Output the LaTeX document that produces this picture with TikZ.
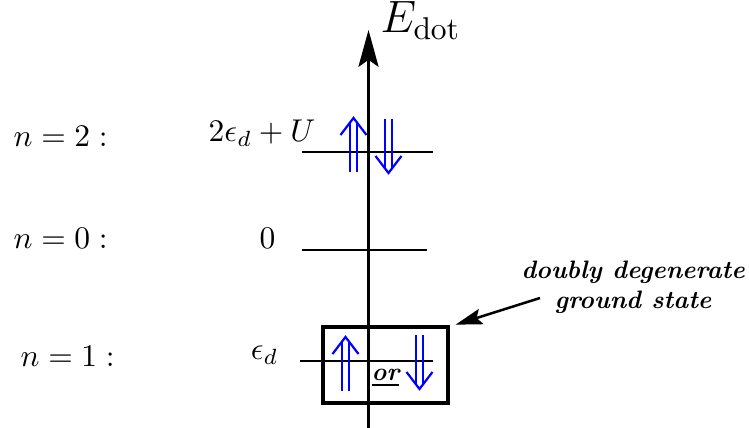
\documentclass[tikz,border=0pt]{standalone}
\usetikzlibrary{arrows.meta}
\begin{document}
\begin{tikzpicture}[
    x=0.3175pt, y=-0.3175pt,
    axis/.style={line width=0.65pt, -{Stealth[length=11.7pt, width=6.4pt, inset=2.2pt]}},
    level/.style={line width=0.65pt},
    spinline/.style={blue, line width=0.7pt},
    lbl/.style={inner sep=0pt},
    note/.style={font=\footnotesize\bfseries\itshape, align=center, inner sep=0pt},
    gsbox/.style={draw, line width=1.4pt, inner sep=0pt, outer sep=0pt, minimum width=39.7pt, minimum height=24.1pt},
    pointer/.style={line width=0.8pt, -{Stealth[length=8.5pt, width=5pt, inset=1.5pt]}},
    pics/spinup/.style={code={
        \draw[spinline] (-13,17) -- (0,0) -- (13,17);
        \draw[spinline] (-3.5,4.5) -- (-3.5,54) (3.5,4.5) -- (3.5,54);
    }}
]
\useasboundingbox (0,0) rectangle (749,428);

% Energy axis
\coordinate (axbot) at (368.5,428);
\coordinate (axtop) at (368.5,30);
\draw[axis] (axbot) -- (axtop);
\node[lbl, anchor=base west, font=\Large] (elabel) at (380,33) {$E_{\mathrm{dot}}$};

% Levels
\coordinate (l2a) at (302,152);
\coordinate (l2b) at (433,152);
\coordinate (l0a) at (302,250);
\coordinate (l0b) at (427,250);
\coordinate (l1a) at (300,361);
\coordinate (l1b) at (433,361);
\draw[level] (l2a) -- (l2b);
\draw[level] (l0a) -- (l0b);
\draw[level] (l1a) -- (l1b);

% Occupation labels
\node[lbl, anchor=base west] (n2) at (13,147) {$n=2:$};
\node[lbl, anchor=base west] (n0) at (13,249) {$n=0:$};
\node[lbl, anchor=base west] (n1) at (20,367) {$n=1:$};

% Energies
\node[lbl, anchor=base east] (e2) at (316,142) {$2\epsilon_d+U$};
\node[lbl, anchor=base east] (e0) at (276,249) {$0$};
\node[lbl, anchor=base east] (e1) at (279,360) {$\epsilon_d$};

% Spins
\pic at (353.5,118) {spinup};
\pic[rotate=180] at (388.5,173) {spinup};
\pic at (345.5,337) {spinup};
\pic[rotate=180] at (419.5,389) {spinup};
\node[lbl, font=\footnotesize\bfseries\itshape] (or) at (385.5,378) {\underline{or}};

% Ground state box and note
\node[gsbox] (gs) at (385.5,365) {};
\node[note] (gnote) at (633,287) {doubly degenerate\\ground state};
\coordinate (pstart) at (540,298);
\draw[pointer, shorten >=2.5pt] (pstart) -- (gs.north east);

\end{tikzpicture}
\end{document}
